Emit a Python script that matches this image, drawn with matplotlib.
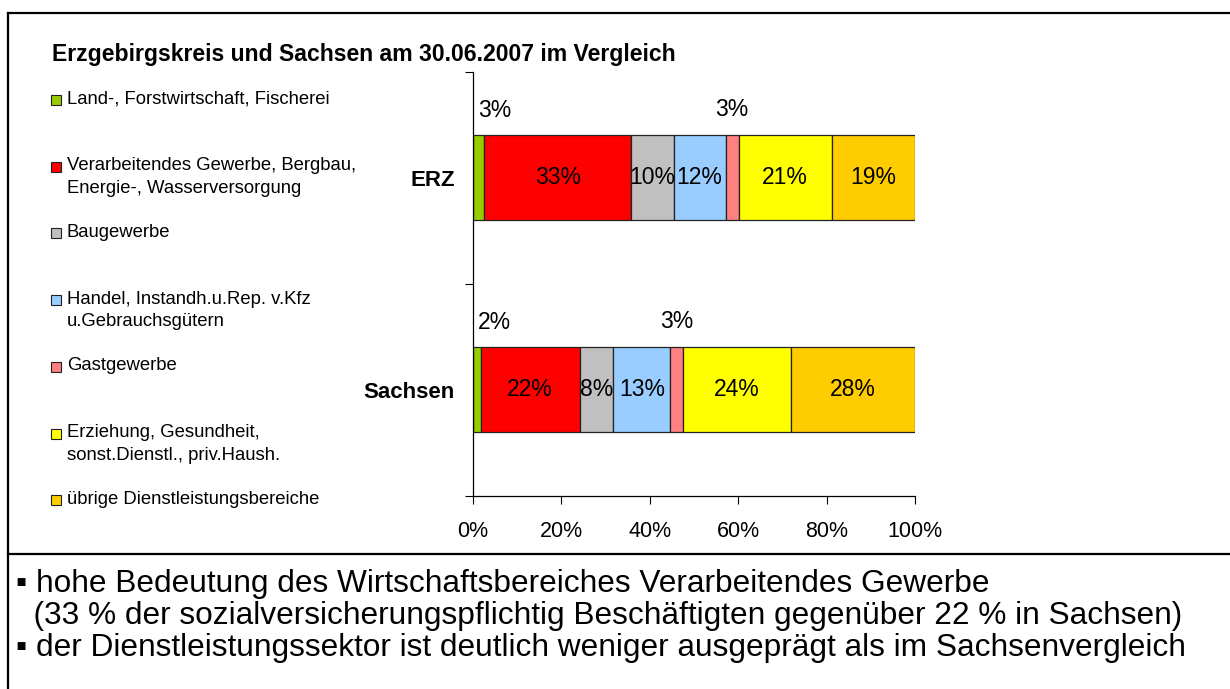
import matplotlib
matplotlib.use('Agg')
import matplotlib.pyplot as plt
from matplotlib.patches import Rectangle
from matplotlib.lines import Line2D

plt.rcParams['font.family'] = ['Liberation Sans', 'DejaVu Sans']

# Daten (Anteile in %)
categories = ['ERZ', 'Sachsen']
sectors = [
    'Land-, Forstwirtschaft, Fischerei',
    'Verarbeitendes Gewerbe, Bergbau,\nEnergie-, Wasserversorgung',
    'Baugewerbe',
    'Handel, Instandh.u.Rep. v.Kfz\nu.Gebrauchsgütern',
    'Gastgewerbe',
    'Erziehung, Gesundheit,\nsonst.Dienstl., priv.Haush.',
    'übrige Dienstleistungsbereiche',
]
erz = [2.6, 33.2, 9.6, 11.8, 2.9, 21.1, 18.8]
sachsen = [1.8, 22.4, 7.6, 12.9, 2.9, 24.3, 28.1]
colors = ['#99CC00', '#FF0000', '#C0C0C0', '#99CCFF', '#FF8080', '#FFFF00', '#FFCC00']
xticks = [0, 20, 40, 60, 80, 100]

title = 'Erzgebirgskreis und Sachsen am 30.06.2007 im Vergleich'
notes = [
    '▪ hohe Bedeutung des Wirtschaftsbereiches Verarbeitendes Gewerbe',
    '  (33 % der sozialversicherungspflichtig Beschäftigten gegenüber 22 % in Sachsen)',
    '▪ der Dienstleistungssektor ist deutlich weniger ausgeprägt als im Sachsenvergleich',
]

W, H = 1230, 689
fig = plt.figure(figsize=(W / 100, H / 100), dpi=100)


def fx(px):
    return px / W


def fy(py):
    return 1 - py / H


# Rahmen
fig.add_artist(Line2D([fx(8), 1], [fy(13), fy(13)], color='black', lw=1.6))
fig.add_artist(Line2D([fx(8), fx(8)], [fy(13), 0], color='black', lw=1.6))
fig.add_artist(Line2D([fx(8), 1], [fy(554), fy(554)], color='black', lw=1.6))

ax = fig.add_axes([fx(472.7), fy(495.5), (915 - 472.7) / W, (495.5 - 71.7) / H])

bar_h = 0.4
data = [erz, sachsen]
for i, vals in enumerate(data):
    left = 0
    for j, v in enumerate(vals):
        ax.barh(i, v, left=left, height=bar_h, color=colors[j],
                edgecolor='#222222', linewidth=0.9)
        label = f'{v:.0f}%'
        if v >= 5:
            ax.text(left + v / 2, i, label, ha='center', va='center', fontsize=16.5)
        elif left == 0:
            ax.text(left + 1.2, i - bar_h / 2 - 0.117, label, ha='left', va='center', fontsize=16.5)
        else:
            ax.text(left + v / 2, i - bar_h / 2 - 0.12, label, ha='center', va='center', fontsize=16.5)
        left += v

ax.set_xlim(0, 100)
ax.set_ylim(1.5, -0.5)
ax.set_xticks(xticks)
ax.set_xticklabels([f'{t}%' for t in xticks], fontsize=15.5)
ax.set_yticks(range(len(categories)))
ax.set_yticklabels(categories, fontsize=16, fontweight='bold')
ax.set_yticks([-0.5, 0.5, 1.5], minor=True)
ax.tick_params(axis='y', which='major', length=0, pad=13)
ax.tick_params(axis='y', which='minor', length=5.5, width=0.8, direction='out')
ax.tick_params(axis='x', length=5.5, width=0.8, direction='out', pad=13)
for s in ['top', 'right']:
    ax.spines[s].set_visible(False)
for s in ['left', 'bottom']:
    ax.spines[s].set_linewidth(0.9)

# Titel
fig.text(fx(52), fy(55), title, fontsize=16.6, fontweight='bold', ha='left', va='center')

# Legende
y0 = 99
step = 66.7
for i, lab in enumerate(sectors):
    yc = y0 + i * step
    fig.add_artist(Rectangle((fx(51), fy(yc + 6)), 10 / W, 10 / H, facecolor=colors[i],
                             edgecolor='#222222', linewidth=0.8))
    for k, line in enumerate(lab.split('\n')):
        fig.text(fx(67), fy(yc + k * 22.7), line, fontsize=13.3, ha='left', va='center')

# Anmerkungen
for k, line in enumerate(notes):
    fig.text(fx(16), fy(592 + k * 32), line, fontsize=22.8, ha='left', va='baseline')

fig.savefig('out.png', dpi=100)
